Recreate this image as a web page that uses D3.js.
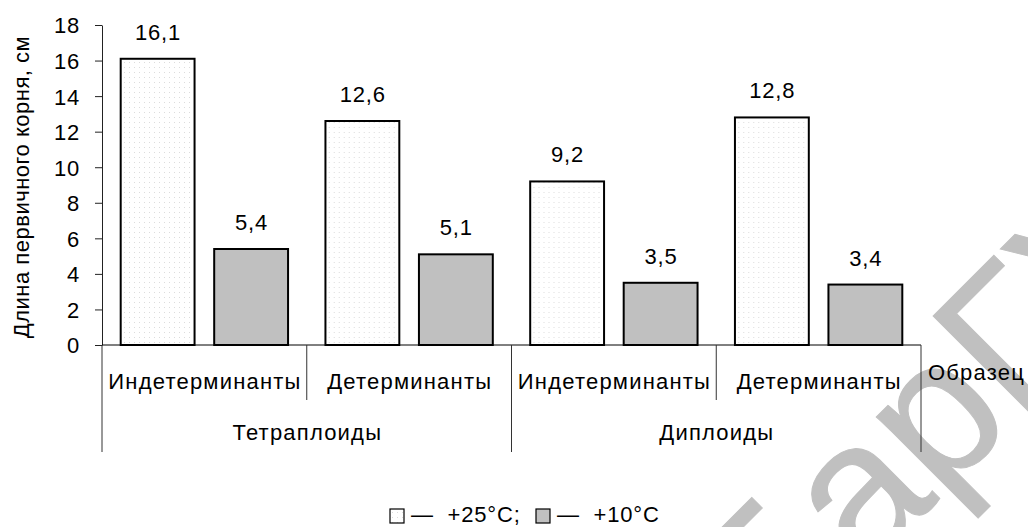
<!DOCTYPE html>
<html>
<head>
<meta charset="utf-8">
<script src="https://cdn.jsdelivr.net/npm/d3@7"></script>
<style>
  body { margin: 0; background: #fff; }
  text { font-family: "Liberation Sans", Arial, sans-serif; }
</style>
</head>
<body>
<div id="chart"></div>
<script>
// ── Data ──────────────────────────────────────────────────────────────────────
const CATEGORIES = ["Индетерминанты", "Детерминанты", "Индетерминанты", "Детерминанты"];
const GROUPS     = ["Тетраплоиды", "Диплоиды"];
const SERIES     = ["+25°C", "+10°C"];
const VALUES_25  = [16.1, 12.6, 9.2, 12.8];
const VALUES_10  = [5.4, 5.1, 3.5, 3.4];
const Y_TICKS    = [0, 2, 4, 6, 8, 10, 12, 14, 16, 18];
const Y_TITLE    = "Длина первичного корня, см";
const STRAY      = "Образец";
const WATERMARK  = "БарГУ";

// ── Dimensions ────────────────────────────────────────────────────────────────
const W = 1028, H = 527;
const X0 = 102, X1 = 921, Y0 = 345, Y1 = 25;
const FONT = 22, SPACING = 1.2;
const GRAY = "#c0c0c0";

// ── SVG ───────────────────────────────────────────────────────────────────────
const svg = d3.select("#chart").append("svg")
  .attr("width", W).attr("height", H);

const defs = svg.append("defs");
const pat = defs.append("pattern")
  .attr("id", "dots").attr("patternUnits", "userSpaceOnUse")
  .attr("width", 5).attr("height", 5);
pat.append("rect").attr("width", 5).attr("height", 5).attr("fill", "#fff");
pat.append("rect").attr("x", 2).attr("y", 2).attr("width", 1).attr("height", 1).attr("fill", "#dcdcdc");

// watermark under everything (Г corner lands near 935,312)
svg.append("text")
  .attr("transform", "translate(773,666) rotate(-45)")
  .attr("font-size", 195)
  .attr("fill", GRAY)
  .attr("stroke", GRAY).attr("stroke-width", 1)
  .text(WATERMARK);

// ── Scales ────────────────────────────────────────────────────────────────────
const idx = d3.range(CATEGORIES.length);
const x = d3.scaleBand().domain(idx).range([X0, X1]).padding(0);
const xIn = d3.scaleBand().domain(SERIES).range([0, x.bandwidth()])
  .paddingInner(0.21).paddingOuter(0.2);
const y = d3.scaleLinear().domain([0, 18]).range([Y0, Y1]);

const fmt = v => String(v).replace(".", ",");

// ── Y axis ────────────────────────────────────────────────────────────────────
const yAxis = svg.append("g")
  .attr("transform", `translate(${X0},0)`)
  .call(d3.axisLeft(y).tickValues(Y_TICKS).tickSize(7).tickPadding(15).tickSizeOuter(0));
yAxis.select(".domain").attr("stroke", "#222");
yAxis.selectAll(".tick line").attr("stroke", "#222");
yAxis.selectAll(".tick text")
  .attr("font-size", FONT).attr("fill", "#000")
  .attr("font-family", "Liberation Sans, Arial, sans-serif")
  .attr("letter-spacing", 0.8).attr("dy", "0.36em");

svg.append("text")
  .attr("transform", `translate(29,${(Y0 + Y1) / 2 + 2}) rotate(-90)`)
  .attr("text-anchor", "middle")
  .attr("font-size", FONT)
  .attr("letter-spacing", 0.5)
  .text(Y_TITLE);

// ── Bars ──────────────────────────────────────────────────────────────────────
const rows = idx.map(i => ({ i, vals: [VALUES_25[i], VALUES_10[i]] }));

const cat = svg.selectAll(".cat").data(rows).join("g")
  .attr("class", "cat")
  .attr("transform", d => `translate(${x(d.i)},0)`);

cat.selectAll("rect").data(d => d.vals.map((v, k) => ({ s: SERIES[k], v, k })))
  .join("rect")
  .attr("x", d => xIn(d.s))
  .attr("width", xIn.bandwidth())
  .attr("y", d => y(d.v))
  .attr("height", d => y(0) - y(d.v))
  .attr("fill", d => d.k === 0 ? "url(#dots)" : GRAY)
  .attr("stroke", "#000").attr("stroke-width", 2);

cat.selectAll(".lbl").data(d => d.vals.map((v, k) => ({ s: SERIES[k], v })))
  .join("text")
  .attr("class", "lbl")
  .attr("x", d => xIn(d.s) + xIn.bandwidth() / 2 + 0.4)
  .attr("y", d => y(d.v) - 19)
  .attr("text-anchor", "middle")
  .attr("font-size", FONT)
  .attr("letter-spacing", 0.8)
  .text(d => fmt(d.v));

// ── X axis (two tiers) ────────────────────────────────────────────────────────
svg.append("line")
  .attr("x1", X0).attr("x2", X1).attr("y1", Y0).attr("y2", Y0)
  .attr("stroke", "#000").attr("stroke-width", 1);

// category separators
d3.range(CATEGORIES.length + 1).forEach(i => {
  const xs = i < CATEGORIES.length ? x(i) : X1;
  const major = i % 2 === 0;
  svg.append("line")
    .attr("x1", xs).attr("x2", xs)
    .attr("y1", Y0).attr("y2", major ? 452 : 400)
    .attr("stroke", "#333").attr("stroke-width", 1);
});

svg.selectAll(".catlbl").data(idx).join("text")
  .attr("class", "catlbl")
  .attr("x", i => x(i) + x.bandwidth() / 2 + SPACING / 2)
  .attr("y", 389)
  .attr("text-anchor", "middle")
  .attr("font-size", FONT)
  .attr("letter-spacing", SPACING)
  .text(i => CATEGORIES[i]);

svg.selectAll(".grplbl").data(GROUPS).join("text")
  .attr("class", "grplbl")
  .attr("x", (g, j) => x(j * 2) + x.bandwidth() + SPACING / 2)
  .attr("y", 440)
  .attr("text-anchor", "middle")
  .attr("font-size", FONT)
  .attr("letter-spacing", SPACING)
  .text(g => g);

svg.append("text")
  .attr("x", X1 + 7).attr("y", 380)
  .attr("font-size", FONT)
  .attr("letter-spacing", SPACING)
  .text(STRAY);

// ── Legend ────────────────────────────────────────────────────────────────────
const legend = [
  { x: 390, fill: "url(#dots)", label: "— +25°C;" },
  { x: 536, fill: GRAY,         label: "— +10°C" },
];
legend.forEach(d => {
  svg.append("rect")
    .attr("x", d.x).attr("y", 509).attr("width", 14).attr("height", 14)
    .attr("fill", d.fill).attr("stroke", "#000").attr("stroke-width", 1.2);
  svg.append("text")
    .attr("x", d.x + 21).attr("y", 522)
    .attr("font-size", FONT)
    .attr("letter-spacing", 0.8)
    .style("white-space", "pre")
    .text(d.label.replace(" ", "  "));
});
</script>
</body>
</html>
